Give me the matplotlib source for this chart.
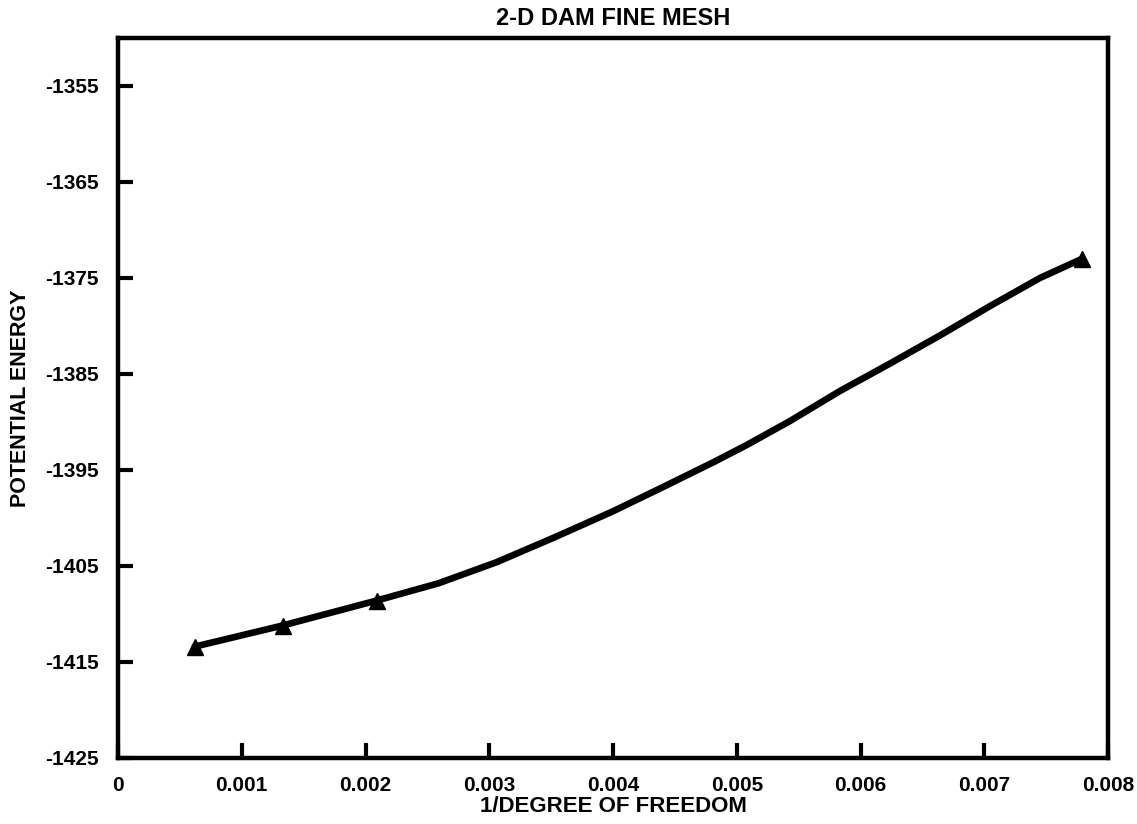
import numpy as np
import matplotlib.pyplot as plt

# --- datos ---
# puntos calculados (triángulos)
inv_dof = [0.00062, 0.00133, 0.00209, 0.00779]
energy = [-1413.4, -1411.2, -1408.6, -1373.0]

# curva ajustada (leída a lo largo del trazo)
curve_x = [0.00062, 0.00133, 0.00209, 0.00259, 0.00306, 0.00353, 0.00400,
           0.00440, 0.00481, 0.00508, 0.00543, 0.00583, 0.00624, 0.00664,
           0.00705, 0.00745, 0.00779]
curve_y = [-1413.4, -1411.2, -1408.6, -1406.8, -1404.6, -1402.0, -1399.3,
           -1396.8, -1394.2, -1392.4, -1389.9, -1386.8, -1383.9, -1381.0,
           -1377.9, -1375.0, -1373.0]

x_ticks = [0, 0.001, 0.002, 0.003, 0.004, 0.005, 0.006, 0.007, 0.008]
x_labels = ['0', '0.001', '0.002', '0.003', '0.004', '0.005', '0.006', '0.007', '0.008']
y_ticks = [-1425, -1415, -1405, -1395, -1385, -1375, -1365, -1355]

plt.rcParams['font.family'] = ['Liberation Sans', 'DejaVu Sans']
plt.rcParams['font.weight'] = 'bold'
plt.rcParams['axes.unicode_minus'] = False

fig = plt.figure(figsize=(11.37, 8.24), dpi=100)
ax = fig.add_axes([0.1038, 0.0801, 0.8707, 0.8738])

ax.plot(curve_x, curve_y, color='black', linewidth=4.8,
        solid_capstyle='round', solid_joinstyle='round')
ax.plot(inv_dof, energy, linestyle='none', marker='^', markersize=11,
        color='black')

ax.set_xlim(0, 0.008)
ax.set_ylim(-1425, -1350)
ax.set_xticks(x_ticks)
ax.set_xticklabels(x_labels)
ax.set_yticks(y_ticks)

for s in ax.spines.values():
    s.set_linewidth(3.2)
ax.tick_params(direction='in', length=11, width=3, pad=13)
ax.tick_params(axis='x', labelsize=15)
ax.tick_params(axis='y', labelsize=15, pad=14)

ax.set_title('2-D DAM FINE MESH', fontsize=17, fontweight='bold', pad=9)
ax.set_xlabel('1/DEGREE OF FREEDOM', fontsize=16, fontweight='bold', labelpad=1)
ax.set_ylabel('POTENTIAL ENERGY', fontsize=15.5, fontweight='bold', labelpad=10)

fig.savefig('out.png', dpi=100)
